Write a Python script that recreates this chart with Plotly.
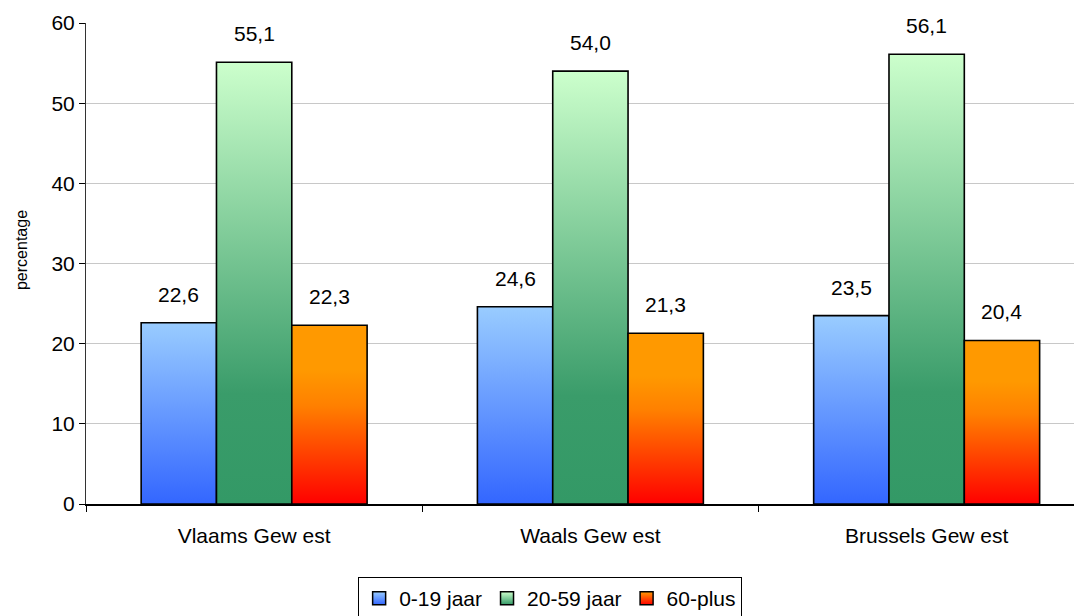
import plotly.graph_objects as go

regions = ["Vlaams Gew est", "Waals Gew est", "Brussels Gew est"]
series = ["0-19 jaar", "20-59 jaar", "60-plus"]
values = {
    "0-19 jaar": [22.6, 24.6, 23.5],
    "20-59 jaar": [55.1, 54.0, 56.1],
    "60-plus": [22.3, 21.3, 20.4],
}
y_title = "percentage"
# gradient colours (bottom -> top)
gradients = {
    "0-19 jaar": [[0, "#3366FF"], [1, "#99CCFF"]],
    "20-59 jaar": [[0, "#339966"], [0.25, "#3A9C6A"], [1, "#CCFFCC"]],
    "60-plus": [[0, "#FF0000"], [0.55, "#FF8000"], [0.75, "#FF9900"], [1, "#FF9900"]],
}
legend_colors = {
    "0-19 jaar": ("#99CCFF", "#3366FF"),
    "20-59 jaar": ("#CCFFCC", "#339966"),
    "60-plus": ("#FF9900", "#FF0000"),
}

W = 0.224
FONT = "Arial, Liberation Sans, sans-serif"
FS = 21

fig = go.Figure()
annotations = []
for s, name in enumerate(series):
    for g, v in enumerate(values[name]):
        xc = g + (s - 1) * W
        x0, x1 = xc - W / 2, xc + W / 2
        fig.add_trace(go.Scatter(
            x=[x0, x0, x1, x1, x0], y=[0, v, v, 0, 0],
            mode="lines", fill="toself",
            fillgradient=dict(type="vertical", colorscale=gradients[name], start=0, stop=v),
            line=dict(color="black", width=1.6),
            name=name, showlegend=False, hoverinfo="skip",
        ))
        annotations.append(dict(
            x=xc, y=v, xref="x", yref="y", text=f"{v:.1f}".replace(".", ","),
            showarrow=False, yanchor="bottom", yshift=15,
            font=dict(family=FONT, size=FS, color="black"),
        ))
    top, bottom = legend_colors[name]
    fig.add_trace(go.Scatter(
        x=[None], y=[None], mode="markers", name=name,
        marker=dict(symbol="square", size=13, color=top,
                    gradient=dict(type="vertical", color=bottom),
                    line=dict(color="black", width=1.5)),
    ))

annotations.append(dict(
    x=0, y=0.528, xref="paper", yref="paper", xshift=-65, text=y_title,
    textangle=-90, showarrow=False, xanchor="center", yanchor="middle",
    font=dict(family=FONT, size=16, color="black"),
))

fig.update_layout(
    width=1074, height=608,
    margin=dict(l=78, r=0, t=15, b=112, autoexpand=False),
    plot_bgcolor="white", paper_bgcolor="white",
    font=dict(family=FONT, size=FS, color="black"),
    annotations=annotations,
    showlegend=True,
    legend=dict(
        orientation="h", x=0.466, xanchor="center", y=-0.152, yanchor="top",
        bordercolor="black", borderwidth=1, font=dict(size=FS),
        itemwidth=30, tracegroupgap=0,
    ),
    xaxis=dict(
        range=[-0.5, 2.462], tickvals=[0, 1, 2], ticktext=regions,
        ticks="", showgrid=False, zeroline=False,
        showline=True, linecolor="black", linewidth=1.5,
        ticklabelstandoff=12, automargin=False,
        minor=dict(tick0=0.5, dtick=1, ticks="outside", ticklen=6, tickcolor="black", showgrid=False),
    ),
    yaxis=dict(
        range=[0, 60], dtick=10, ticks="outside", ticklen=6, tickcolor="black",
        showgrid=True, gridcolor="#C8C8C8", gridwidth=1, zeroline=False,
        showline=True, linecolor="#333333", linewidth=1, automargin=False,
    ),
)

fig.write_html("out.html")
